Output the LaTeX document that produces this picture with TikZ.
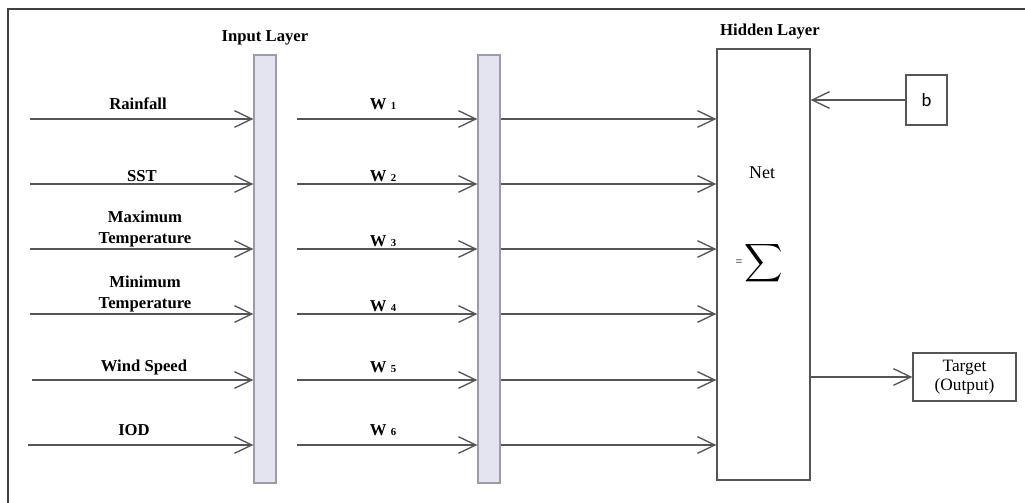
\documentclass[tikz,border=0pt]{standalone}
\usepackage{fontspec}
\setmainfont{Liberation Serif}
\newfontfamily\biasfont{Carlito}
\usetikzlibrary{arrows.meta}
\definecolor{linegray}{HTML}{555555}
\definecolor{barfill}{HTML}{E4E4F0}
\definecolor{bardraw}{HTML}{9C9CA6}
\begin{document}
\begin{tikzpicture}[x=0.75pt,y=-0.75pt,
    arr/.style={draw=linegray,line width=1pt,-{Straight Barb[length=13pt,width=12.5pt,line width=1pt]}},
    bar/.style={draw=bardraw,fill=barfill,line width=1pt,inner sep=0pt,minimum width=16.5pt,minimum height=321pt},
    box/.style={draw=linegray,line width=1pt,inner sep=0pt},
    lbl/.style={font=\fontsize{12.5}{16}\selectfont\bfseries,align=center,inner sep=0pt}]
    \useasboundingbox (0,0) rectangle (1025,503);
    % outer frame, only top and left edges
    \draw[line width=1.5pt,black!75] (8,503) -- (8,9) -- (1025,9);

    % the two layer bars and the hidden unit
    \node[bar] (inbar) at (265,269) {};
    \node[bar] (midbar) at (489,269) {};
    \node[box,minimum width=69.75pt,minimum height=323.25pt] (hidden) at (763.5,264.5) {};
    \node[box,minimum width=30.75pt,minimum height=37.5pt,font=\biasfont\fontsize{14}{16}\selectfont] (bias) at (926.5,100) {b};
    \node[box,minimum width=77.25pt,minimum height=36pt,align=center,font=\fontsize{13}{14.5}\selectfont] (target) at (964.5,377) {Target\\(Output)};

    \node[lbl] (inlayer) at (265,38) {Input Layer};
    \node[lbl] (hidlayer) at (770,32) {Hidden Layer};
    \node[font=\fontsize{13.5}{15}\selectfont] (net) at (762,173) {Net};
    \node[font=\fontsize{9}{10}\selectfont] (eq) at (739,263) {=};
    \node[inner sep=0pt] (sum) at (764,263) {\scalebox{2}{$\displaystyle\sum$}};

    % input arrows
    \coordinate (s1) at (30,119);
    \coordinate (s2) at (30,184);
    \coordinate (s3) at (30,249);
    \coordinate (s4) at (30,314);
    \coordinate (s5) at (32,380);
    \coordinate (s6) at (28,445);
    \draw[arr] (s1) -- (inbar.west |- s1);
    \draw[arr] (s2) -- (inbar.west |- s2);
    \draw[arr] (s3) -- (inbar.west |- s3);
    \draw[arr] (s4) -- (inbar.west |- s4);
    \draw[arr] (s5) -- (inbar.west |- s5);
    \draw[arr] (s6) -- (inbar.west |- s6);
    \node[lbl] (rain) at (138,104) {Rainfall};
    \node[lbl] (sst) at (142,176) {SST};
    \node[lbl] (tmax) at (145,229) {Maximum\\Temperature};
    \node[lbl] (tmin) at (145,294) {Minimum\\Temperature};
    \node[lbl] (wind) at (144,367) {Wind Speed};
    \node[lbl] (iod) at (134,430) {IOD};

    % weighted arrows
    \coordinate (w1) at (297,119);
    \coordinate (w2) at (297,184);
    \coordinate (w3) at (297,249);
    \coordinate (w4) at (297,314);
    \coordinate (w5) at (297,380);
    \coordinate (w6) at (297,445);
    \draw[arr] (w1) -- (midbar.west |- w1);
    \draw[arr] (w2) -- (midbar.west |- w2);
    \draw[arr] (w3) -- (midbar.west |- w3);
    \draw[arr] (w4) -- (midbar.west |- w4);
    \draw[arr] (w5) -- (midbar.west |- w5);
    \draw[arr] (w6) -- (midbar.west |- w6);
    \node[lbl] (lw1) at (383,104) {W {\footnotesize 1}};
    \node[lbl] (lw2) at (383,176) {W {\footnotesize 2}};
    \node[lbl] (lw3) at (383,241) {W {\footnotesize 3}};
    \node[lbl] (lw4) at (383,306) {W {\footnotesize 4}};
    \node[lbl] (lw5) at (383,367) {W {\footnotesize 5}};
    \node[lbl] (lw6) at (383,430) {W {\footnotesize 6}};

    % into the hidden unit
    \draw[arr] (midbar.east |- s1) -- (hidden.west |- s1);
    \draw[arr] (midbar.east |- s2) -- (hidden.west |- s2);
    \draw[arr] (midbar.east |- s3) -- (hidden.west |- s3);
    \draw[arr] (midbar.east |- s4) -- (hidden.west |- s4);
    \draw[arr] (midbar.east |- s5) -- (hidden.west |- s5);
    \draw[arr] (midbar.east |- s6) -- (hidden.west |- s6);
    \draw[arr] (bias.west) -- (hidden.east |- bias.west);
    \draw[arr] (hidden.east |- target.west) -- (target.west);
\end{tikzpicture}
\end{document}
